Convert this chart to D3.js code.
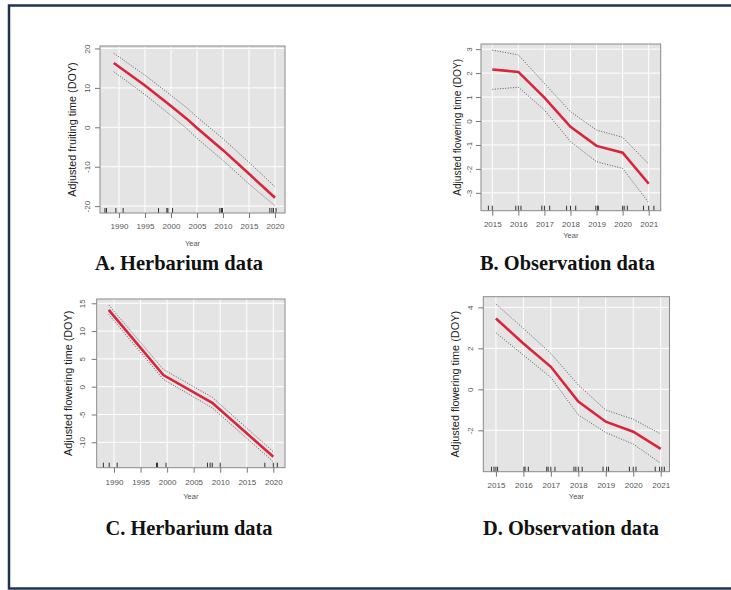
<!DOCTYPE html>
<html>
<head>
<meta charset="utf-8">
<script src="https://cdn.jsdelivr.net/npm/d3@7"></script>
<style>
	body { margin: 0; background: #fff; }
	svg { display: block; }
</style>
</head>
<body>
<svg width="731" height="590"></svg>
<script>
// A. herbarium, fruiting
const herbFruitYears = [1989, 1995, 2000, 2003, 2005, 2010, 2015, 2020];
const herbFruitFit = [16.3, 10.6, 5.4, 2.2, -0.2, -5.8, -11.8, -17.9];
const herbFruitUpper = [18.8, 13.2, 8.1, 5.0, 2.6, -2.9, -8.9, -15.1];
const herbFruitLower = [14.1, 8.3, 3.0, -0.3, -2.8, -8.4, -14.4, -19.9];
const herbFruitRug = [1987.3, 1987.6, 1989.4, 1990.8, 1997.6, 1999.2, 1999.4, 2000.3,
	2009.4, 2009.7, 2009.9, 2019.0, 2019.4, 2019.7, 2020.2];

// B. observation, flowering
const obsFlowerYearsB = [2015, 2016, 2017, 2018, 2019, 2020, 2021];
const obsFlowerFitB = [2.15, 2.05, 0.98, -0.24, -1.04, -1.32, -2.62];
const obsFlowerUpperB = [2.96, 2.76, 1.57, 0.39, -0.38, -0.68, -1.8];
const obsFlowerLowerB = [1.32, 1.41, 0.46, -0.86, -1.7, -1.98, -3.41];
const obsFlowerRugB = [2014.85, 2015.0, 2015.9, 2016.0, 2016.1, 2016.9, 2017.0, 2017.2,
	2017.85, 2018.0, 2018.2, 2018.97, 2019.03, 2019.07, 2020.0, 2020.06, 2020.18,
	2020.8, 2021.0, 2021.2];

// C. herbarium, flowering
const herbFlowerYears = [1989, 1999.3, 2008.5, 2020];
const herbFlowerFit = [13.8, 2.1, -2.9, -12.6];
const herbFlowerUpper = [14.7, 3.1, -1.9, -11.7];
const herbFlowerLower = [13.0, 1.3, -3.8, -13.5];
const herbFlowerRug = [1988.0, 1989.1, 1990.6, 1998.0, 1998.2, 1999.8, 2007.6, 2008.1,
	2008.5, 2010.0, 2018.4, 2020.0, 2020.75];

// D. observation, flowering
const obsFlowerYearsD = [2015, 2016, 2017, 2018, 2019, 2020, 2021];
const obsFlowerFitD = [3.46, 2.24, 1.1, -0.6, -1.58, -2.07, -2.91];
const obsFlowerUpperD = [4.16, 2.97, 1.75, 0.21, -1.01, -1.46, -2.18];
const obsFlowerLowerD = [2.76, 1.67, 0.58, -1.25, -2.11, -2.67, -3.61];
const obsFlowerRugD = [2014.84, 2014.93, 2015.0, 2015.06, 2016.02, 2016.06, 2016.18,
	2016.85, 2016.9, 2017.0, 2017.15, 2017.84, 2017.91, 2018.0, 2018.14, 2018.9,
	2019.03, 2019.1, 2019.86, 2020.0, 2020.1, 2020.8, 2020.96, 2021.04, 2021.13];

const herbYearTicks = [1990, 1995, 2000, 2005, 2010, 2015, 2020];
const obsYearTicks = [2015, 2016, 2017, 2018, 2019, 2020, 2021];

const svg = d3.select("svg");

// outer frame
svg.append("rect")
	.attr("x", 9)
	.attr("y", 5.5)
	.attr("width", 740)
	.attr("height", 583)
	.attr("fill", "none")
	.attr("stroke", "#1f3354")
	.attr("stroke-width", 2.5);

const panels = [
	{
		title: "A. Herbarium data", titleX: 179, titleY: 270, titleW: 168,
		yLabel: "Adjusted fruiting time (DOY)", labelSize: 10.8,
		years: herbFruitYears, fit: herbFruitFit, upper: herbFruitUpper, lower: herbFruitLower,
		rug: herbFruitRug, xTicks: herbYearTicks, yTicks: [-20, -10, 0, 10, 20],
		box: { l: 100, t: 46, r: 285, b: 213 },
		xDomain: [1986.35, 2021.92], yDomain: [-21.75, 20.63],
		xLab: 13, yearLab: 30, yLab: 13, titleLab: 28
	},
	{
		title: "B. Observation data", titleX: 567.5, titleY: 270, titleW: 175,
		yLabel: "Adjusted flowering time (DOY)", labelSize: 10.2,
		years: obsFlowerYearsB, fit: obsFlowerFitB, upper: obsFlowerUpperB, lower: obsFlowerLowerB,
		rug: obsFlowerRugB, xTicks: obsYearTicks, yTicks: [-3, -2, -1, 0, 1, 2, 3],
		box: { l: 481, t: 44, r: 660.7, b: 210.7 },
		xDomain: [2014.567, 2021.46], yDomain: [-3.745, 3.215],
		xLab: 14, yearLab: 25, yLab: 12, titleLab: 24
	},
	{
		title: "C. Herbarium data", titleX: 189, titleY: 535, titleW: 167,
		yLabel: "Adjusted flowering time (DOY)", labelSize: 10.8,
		years: herbFlowerYears, fit: herbFlowerFit, upper: herbFlowerUpper, lower: herbFlowerLower,
		rug: herbFlowerRug, xTicks: herbYearTicks, yTicks: [-10, -5, 0, 5, 10, 15],
		box: { l: 96.7, t: 299, r: 285, b: 467.7 },
		xDomain: [1986.74, 2022.2], yDomain: [-14.57, 15.77],
		xLab: 15, yearLab: 29, yLab: 15, titleLab: 28
	},
	{
		title: "D. Observation data", titleX: 571, titleY: 535, titleW: 176,
		yLabel: "Adjusted flowering time (DOY)", labelSize: 10.9,
		years: obsFlowerYearsD, fit: obsFlowerFitD, upper: obsFlowerUpperD, lower: obsFlowerLowerD,
		rug: obsFlowerRugD, xTicks: obsYearTicks, yTicks: [-2, 0, 2, 4],
		box: { l: 483.3, t: 296.7, r: 669.5, b: 471.7 },
		xDomain: [2014.54, 2021.32], yDomain: [-4.02, 4.52],
		xLab: 13.3, yearLab: 25, yLab: 13, titleLab: 28
	}
];

// R prints plain hyphen minus signs
const plain = (d) => String(d);

function drawPanel(p) {
	const box = p.box;
	const x = d3.scaleLinear().domain(p.xDomain).range([box.l, box.r]);
	const y = d3.scaleLinear().domain(p.yDomain).range([box.b, box.t]);
	const g = svg.append("g");

	g.append("rect")
		.attr("x", box.l)
		.attr("y", box.t)
		.attr("width", box.r - box.l)
		.attr("height", box.b - box.t)
		.attr("fill", "#e4e4e4");

	// grid
	g.selectAll(".vgrid")
		.data(p.xTicks)
		.join("line")
		.attr("x1", (d) => x(d))
		.attr("x2", (d) => x(d))
		.attr("y1", box.t)
		.attr("y2", box.b)
		.attr("stroke", "#fff")
		.attr("stroke-width", 1);
	g.selectAll(".hgrid")
		.data(p.yTicks)
		.join("line")
		.attr("x1", box.l)
		.attr("x2", box.r)
		.attr("y1", (d) => y(d))
		.attr("y2", (d) => y(d))
		.attr("stroke", "#fff")
		.attr("stroke-width", 1);

	const line = d3.line()
		.x((d) => x(d[0]))
		.y((d) => y(d[1]));

	[p.upper, p.lower].forEach(function (band) {
		g.append("path")
			.attr("d", line(p.years.map((yr, i) => [yr, band[i]])))
			.attr("fill", "none")
			.attr("stroke", "#4a4a4a")
			.attr("stroke-width", 0.9)
			.attr("stroke-dasharray", "1,1.6");
	});

	g.append("path")
		.attr("d", line(p.years.map((yr, i) => [yr, p.fit[i]])))
		.attr("fill", "none")
		.attr("stroke", "#d9253a")
		.attr("stroke-width", 2.6);

	// rug
	g.selectAll(".rug")
		.data(p.rug)
		.join("line")
		.attr("x1", (d) => x(d))
		.attr("x2", (d) => x(d))
		.attr("y1", box.b)
		.attr("y2", box.b - 5)
		.attr("stroke", "#333")
		.attr("stroke-width", 1);

	g.append("rect")
		.attr("x", box.l)
		.attr("y", box.t)
		.attr("width", box.r - box.l)
		.attr("height", box.b - box.t)
		.attr("fill", "none")
		.attr("stroke", "#8a8a8a")
		.attr("stroke-width", 1);

	// x axis
	const xAxis = g.append("g")
		.attr("transform", `translate(0,${box.b})`)
		.call(d3.axisBottom(x).tickValues(p.xTicks).tickSize(5).tickFormat(plain));
	xAxis.select(".domain").remove();
	xAxis.selectAll("line").attr("stroke", "#777");
	xAxis.selectAll("text")
		.attr("y", p.xLab)
		.attr("dy", "0.35em")
		.attr("fill", "#555")
		.style("font", "8px 'Liberation Sans', Arial, sans-serif");

	// y axis
	const yAxis = g.append("g")
		.attr("transform", `translate(${box.l},0)`)
		.call(d3.axisLeft(y).tickValues(p.yTicks).tickSize(5).tickFormat(plain));
	yAxis.select(".domain").remove();
	yAxis.selectAll("line").attr("stroke", "#777");
	yAxis.selectAll("text")
		.attr("x", 0)
		.attr("y", -p.yLab)
		.attr("dy", "0.35em")
		.attr("transform", "rotate(-90)")
		.attr("text-anchor", "middle")
		.attr("fill", "#555")
		.style("font", "8px 'Liberation Sans', Arial, sans-serif");

	g.append("text")
		.attr("x", (box.l + box.r) / 2)
		.attr("y", box.b + p.yearLab)
		.attr("dy", "0.35em")
		.attr("text-anchor", "middle")
		.attr("fill", "#555")
		.style("font", "7.5px 'Liberation Sans', Arial, sans-serif")
		.text("Year");

	g.append("text")
		.attr("transform", `translate(${box.l - p.titleLab},${(box.t + box.b) / 2}) rotate(-90)`)
		.attr("dy", "0.35em")
		.attr("text-anchor", "middle")
		.attr("fill", "#222")
		.style("font", `${p.labelSize}px 'Liberation Sans', Arial, sans-serif`)
		.text(p.yLabel);

	g.append("text")
		.attr("x", p.titleX)
		.attr("y", p.titleY)
		.attr("text-anchor", "middle")
		.attr("textLength", p.titleW)
		.attr("lengthAdjust", "spacingAndGlyphs")
		.attr("fill", "#111")
		.style("font", "bold 21px 'Liberation Serif', 'Times New Roman', serif")
		.text(p.title);
}

panels.forEach(drawPanel);
</script>
</body>
</html>
